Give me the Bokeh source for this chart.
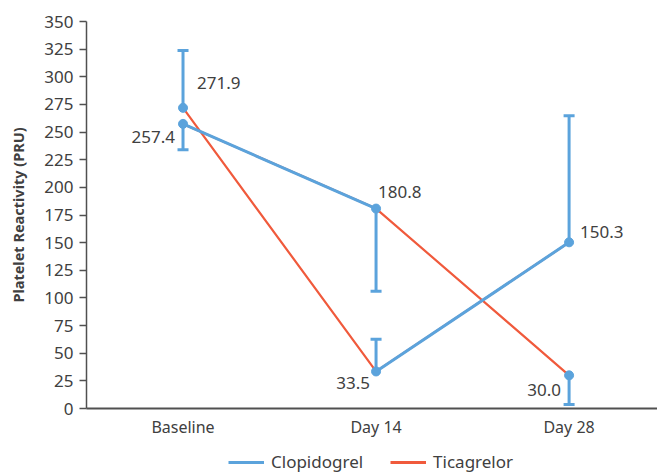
import numpy as np
from bokeh.plotting import figure
from bokeh.layouts import column
from bokeh.models import (ColumnDataSource, Range1d, FixedTicker, LabelSet,
                          Legend, LegendItem)
from bokeh.core.properties import value
from bokeh.embed import file_html
from bokeh.resources import INLINE

# ---- data ----
categories = ["Baseline", "Day 14", "Day 28"]
clopidogrel = [257.4, 180.8, 150.3]
ticagrelor = [271.9, 33.5, 30.0]
err_end_clopidogrel = [233.9, 106.0, 264.8]
err_end_ticagrelor = [323.7, 62.6, 3.6]
y_ticks = list(range(0, 351, 25))
series_names = ["Clopidogrel", "Ticagrelor"]

BLUE = "#5ba3dc"
RED = "#f05a3c"
GREY = "#404040"
FONT = "Noto Sans"

xs = np.arange(len(categories)) + 0.5

p = figure(width=657, height=445, output_backend="svg", toolbar_location=None,
           x_range=Range1d(0, 2.958), y_range=Range1d(0, 350),
           min_border_left=86, min_border_right=0, min_border_top=21,
           min_border_bottom=37)
p.outline_line_color = None
p.xgrid.visible = False
p.ygrid.visible = False
p.background_fill_color = "white"
p.border_fill_color = "white"

# red lines (as drawn)
p.line([xs[0], xs[1], xs[2]], [ticagrelor[0], ticagrelor[1], clopidogrel[2]],
       line_color=RED, line_width=2.2)
p.line([xs[0], xs[1], xs[2]], [clopidogrel[0], clopidogrel[1], ticagrelor[2]],
       line_color=RED, line_width=2.2)
# blue lines (as drawn)
p.line([xs[0], xs[1]], [clopidogrel[0], clopidogrel[1]], line_color=BLUE, line_width=3)
p.line([xs[1], xs[2]], [ticagrelor[1], clopidogrel[2]], line_color=BLUE, line_width=3)

# error bars
for vals, ends in ((clopidogrel, err_end_clopidogrel), (ticagrelor, err_end_ticagrelor)):
    p.segment(x0=xs, y0=vals, x1=xs, y1=ends, line_color=BLUE, line_width=3)
    p.scatter(x=xs, y=ends, marker="dash", size=11, line_color=BLUE, line_width=3)

# markers
p.scatter(x=np.concatenate([xs, xs]), y=clopidogrel + ticagrelor, size=9,
          fill_color=BLUE, line_color=BLUE)

# data labels
lab = ColumnDataSource(dict(
    x=np.concatenate([xs, xs]),
    y=clopidogrel + ticagrelor,
    text=[f"{v:.1f}" for v in clopidogrel + ticagrelor],
    xo=[-8, 2, 11, 14, -6, -8],
    yo=[-13, 17, 10, 25, -12, -15],
    align=["right", "left", "left", "left", "right", "right"],
))
p.add_layout(LabelSet(x="x", y="y", text="text", source=lab, x_offset="xo", y_offset="yo",
                      text_align="align", text_baseline="middle", text_font=value(FONT),
                      text_font_size=value("17px"), text_color=GREY))

# axes
p.xaxis.ticker = FixedTicker(ticks=list(xs))
p.xaxis.major_label_overrides = {float(x): c for x, c in zip(xs, categories)}
p.xaxis.major_tick_line_color = None
p.xaxis.major_tick_out = 0
p.xaxis.major_tick_in = 0
p.xaxis.minor_tick_line_color = None
p.xaxis.minor_tick_out = 0
p.xaxis.axis_line_color = "#505050"
p.xaxis.axis_line_width = 2
p.xaxis.major_label_standoff = 7
p.xaxis.major_label_text_font = FONT
p.xaxis.major_label_text_font_size = "16px"
p.xaxis.major_label_text_color = GREY

p.yaxis.ticker = FixedTicker(ticks=y_ticks)
p.yaxis.minor_tick_line_color = None
p.yaxis.major_tick_out = 7
p.yaxis.major_tick_in = 0
p.yaxis.major_tick_line_color = "#505050"
p.yaxis.major_tick_line_width = 1.5
p.yaxis.axis_line_color = "#505050"
p.yaxis.axis_line_width = 1.5
p.yaxis.major_label_standoff = 6
p.yaxis.major_label_text_font = FONT
p.yaxis.major_label_text_font_size = "17px"
p.yaxis.major_label_text_color = GREY
p.yaxis.axis_label = "Platelet Reactivity (PRU)"
p.yaxis.axis_label_text_font = FONT
p.yaxis.axis_label_text_font_style = "bold"
p.yaxis.axis_label_text_font_size = "14.5px"
p.yaxis.axis_label_text_color = GREY
p.yaxis.axis_label_standoff = 13

# legend strip (separate figure below the chart)
pl = figure(width=657, height=28, output_backend="svg", toolbar_location=None,
            x_range=Range1d(0, 1), y_range=Range1d(0, 1),
            min_border_left=86, min_border_right=0, min_border_top=0, min_border_bottom=0)
pl.axis.visible = False
pl.xgrid.visible = False
pl.ygrid.visible = False
pl.outline_line_color = None
lb = pl.line([-10, -9], [-10, -9], line_color=BLUE, line_width=3)
lr = pl.line([-10, -9], [-10, -9], line_color=RED, line_width=3)
legend = Legend(items=[LegendItem(label=series_names[0], renderers=[lb]),
                       LegendItem(label=series_names[1], renderers=[lr])],
                orientation="horizontal", location=(142, 0),
                padding=0, margin=0, spacing=27, glyph_width=36, label_standoff=7,
                label_text_font=FONT, label_text_font_size="17px",
                label_text_color=GREY, border_line_color=None,
                background_fill_alpha=0)
pl.add_layout(legend, "center")

open("out.html", "w").write(file_html(column(p, pl, spacing=0), INLINE))
